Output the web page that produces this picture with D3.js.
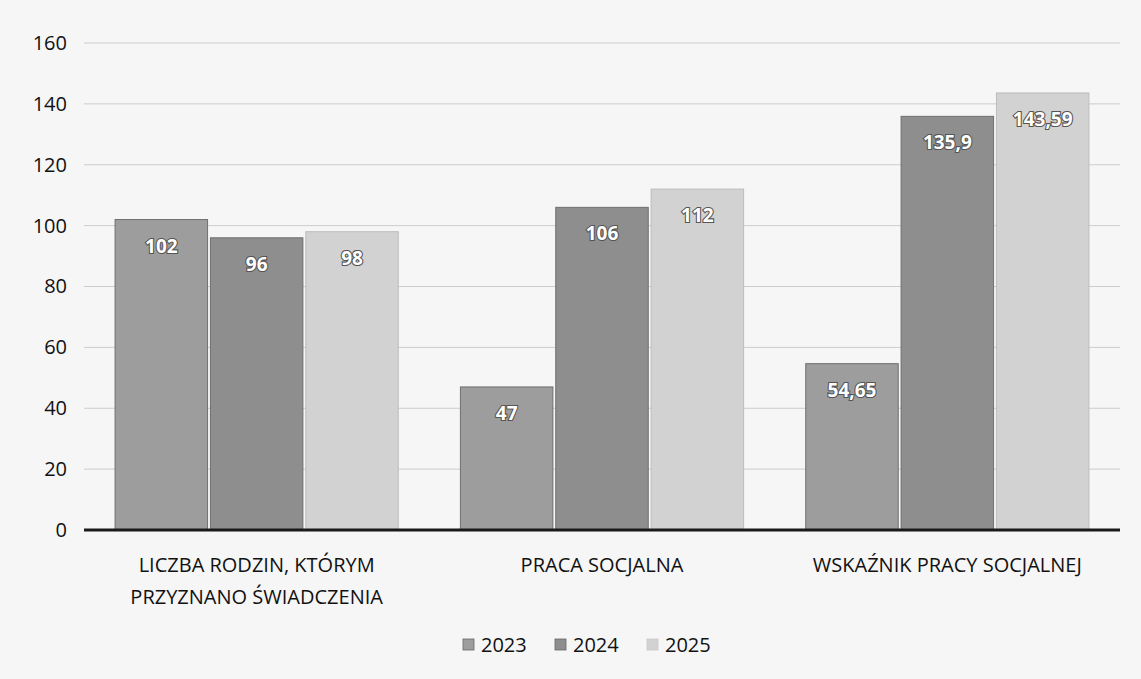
<!DOCTYPE html>
<html lang="pl">
<head>
<meta charset="UTF-8">
<title>Wskaźniki</title>
<style>
  body { margin: 0; background: #f6f6f6; }
  svg { display: block; }
</style>
</head>
<body>
<svg id="chart"></svg>
<script src="https://d3js.org/d3.v7.min.js"></script>
<script>
var categories = [
  ['LICZBA RODZIN, KTÓRYM', 'PRZYZNANO ŚWIADCZENIA'],
  ['PRACA SOCJALNA'],
  ['WSKAŹNIK PRACY SOCJALNEJ']
];
var years = ['2023', '2024', '2025'];
var values2023 = [102, 47, 54.65];
var values2024 = [96, 106, 135.9];
var values2025 = [98, 112, 143.59];
var yTicks = [0, 20, 40, 60, 80, 100, 120, 140, 160];

var series = [values2023, values2024, values2025];
var colors = ['#9d9d9d', '#8e8e8e', '#d2d2d2'];

var width = 1141, height = 679;
var margin = { left: 84, right: 21, top: 43, bottom: 149 };

var svg = d3.select('#chart').attr('width', width).attr('height', height);
var font = "'Open Sans', 'Liberation Sans', sans-serif";

var x = d3.scaleBand().domain(d3.range(categories.length))
  .range([margin.left, width - margin.right]).paddingInner(0.18).paddingOuter(0.09);
var xi = d3.scaleBand().domain(d3.range(years.length))
  .range([0, x.bandwidth()]).paddingInner(0.03);
var y = d3.scaleLinear().domain([0, 160]).range([height - margin.bottom, margin.top]);

// grid
svg.append('g').selectAll('line').data(yTicks.slice(1)).join('line')
  .attr('x1', margin.left).attr('x2', width - margin.right)
  .attr('y1', d => y(d)).attr('y2', d => y(d))
  .attr('stroke', '#cccccc').attr('stroke-width', 1);

// y axis labels
svg.append('g').attr('transform', 'translate(' + (margin.left - 17) + ',0)')
  .call(d3.axisLeft(y).tickValues(yTicks).tickSize(0).tickPadding(0))
  .call(g => g.select('.domain').remove())
  .selectAll('text')
  .attr('font-family', font).attr('font-size', 20).attr('fill', '#111');

// bars
var groups = svg.append('g').selectAll('g').data(categories).join('g')
  .attr('transform', (d, i) => 'translate(' + x(i) + ',0)');

groups.each(function (c, ci) {
  var g = d3.select(this);
  years.forEach(function (yr, si) {
    var v = series[si][ci];
    g.append('rect')
      .attr('x', xi(si)).attr('width', xi.bandwidth())
      .attr('y', y(v)).attr('height', y(0) - y(v))
      .attr('fill', colors[si])
      .attr('stroke', si === 2 ? '#bdbdbd' : '#6f6f6f').attr('stroke-width', 1);
    g.append('text')
      .attr('x', xi(si) + xi.bandwidth() / 2)
      .attr('y', y(v) + 33)
      .attr('text-anchor', 'middle')
      .attr('font-family', font).attr('font-size', 19).attr('font-weight', 700)
      .attr('fill', '#fff')
      .attr('stroke', '#555').attr('stroke-width', 2.2).attr('paint-order', 'stroke')
      .text(String(v).replace('.', ','));
  });
});

// baseline
svg.append('line')
  .attr('x1', margin.left).attr('x2', width - margin.right)
  .attr('y1', y(0)).attr('y2', y(0))
  .attr('stroke', '#1a1a1a').attr('stroke-width', 3);

// category labels
groups.append('text')
  .attr('text-anchor', 'middle')
  .attr('font-family', font).attr('font-size', 20).attr('fill', '#111')
  .selectAll('tspan').data(d => d).join('tspan')
  .attr('x', x.bandwidth() / 2)
  .attr('y', (d, i) => y(0) + 42 + i * 32)
  .text(d => d);

// legend
var legend = svg.append('g');
var lx = 463;
years.forEach(function (yr, i) {
  var gx = lx + i * 92;
  legend.append('rect').attr('x', gx).attr('y', 639).attr('width', 11).attr('height', 11)
    .attr('fill', colors[i]).attr('stroke', i === 2 ? '#c8c8c8' : '#666').attr('stroke-width', 0.8);
  legend.append('text').attr('x', gx + 18).attr('y', 652)
    .attr('font-family', font).attr('font-size', 20).attr('fill', '#111').text(yr);
});
</script>
</body>
</html>
